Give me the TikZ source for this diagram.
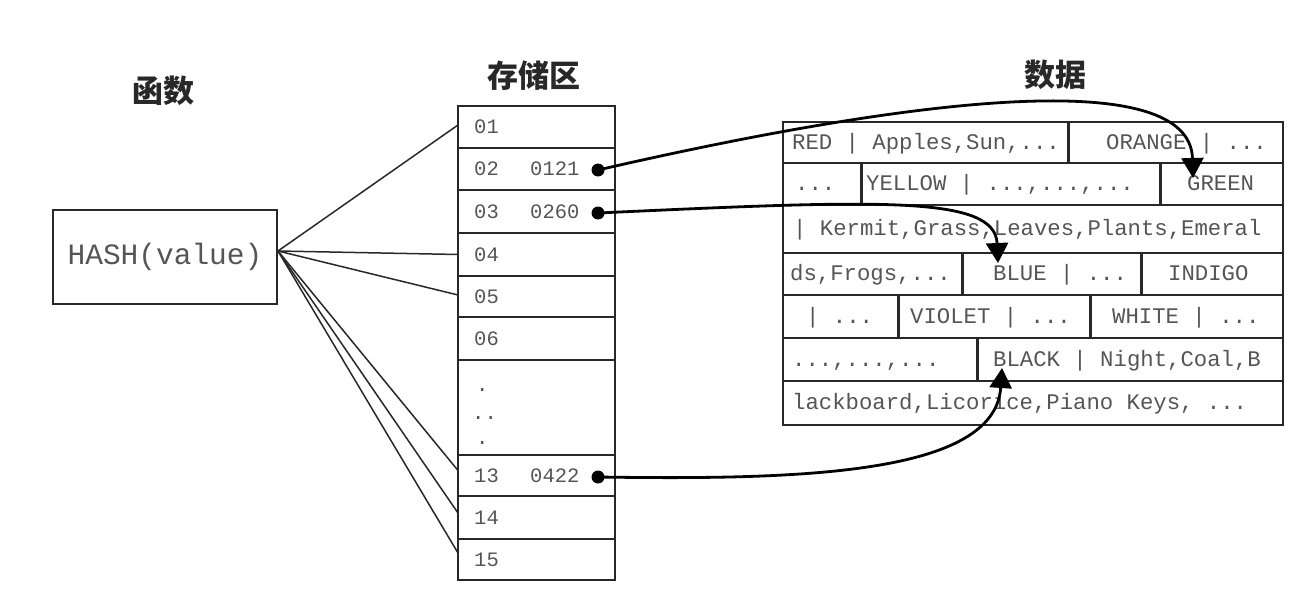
\documentclass[tikz,border=0pt]{standalone}
\usepackage{fontspec}
\setmonofont{Liberation Mono}
\newfontfamily\cjk{Noto Sans CJK SC}
\usetikzlibrary{arrows.meta}
\definecolor{linec}{RGB}{40,40,40}
\definecolor{txtc}{RGB}{85,85,85}
\definecolor{titlec}{RGB}{40,40,40}
\begin{document}
\begin{tikzpicture}[x=1pt,y=-1pt,
  cell/.style={draw=linec, line width=2pt, inner sep=0pt, outer sep=0pt, anchor=north west},
  divider/.style={draw=linec, line width=3pt},
  mono/.style={font=\fontsize{22.3}{24}\selectfont\ttfamily, text=txtc, inner sep=0pt, anchor=west, text height=13pt, text depth=0pt},
  smono/.style={font=\fontsize{20.5}{22}\selectfont\ttfamily, text=txtc, inner sep=0pt, anchor=west, text height=13pt, text depth=0pt},
  title/.style={font=\fontsize{31}{33}\selectfont\cjk\bfseries, text=titlec, inner sep=0pt},
  ptr/.style={draw=black, line width=2.8pt, -{Triangle[length=20pt,width=22pt]}},
  dot/.style={circle, fill=black, inner sep=0pt, minimum size=13pt},
  hashline/.style={draw=linec, line width=1.5pt}
]
\useasboundingbox (0,0) rectangle (1302,594);

% titles
\node[title] (t1) at (163,91) {函数};
\node[title] (t2) at (534,76) {存储区};
\node[title] (t3) at (1055,75) {数据};

% hash box
\node[draw=linec, line width=2pt, minimum width=224, minimum height=94, inner sep=0pt,
      font=\fontsize{29.5}{31}\selectfont\ttfamily, text=txtc] (hash) at (165,257) {HASH(value)};

% storage column
\node[cell, minimum width=157, minimum height=42] (s01) at (458,106) {};
\node[cell, minimum width=157, minimum height=42] (s02) at (458,148) {};
\node[cell, minimum width=157, minimum height=43] (s03) at (458,190) {};
\node[cell, minimum width=157, minimum height=43] (s04) at (458,233) {};
\node[cell, minimum width=157, minimum height=41] (s05) at (458,276) {};
\node[cell, minimum width=157, minimum height=43] (s06) at (458,317) {};
\node[cell, minimum width=157, minimum height=95] (sdots) at (458,360) {};
\node[cell, minimum width=157, minimum height=41] (s13) at (458,455) {};
\node[cell, minimum width=157, minimum height=43] (s14) at (458,496) {};
\node[cell, minimum width=157, minimum height=41] (s15) at (458,539) {};

\node[smono] (l01) at (474,127) {01};
\node[smono] (l02) at (474,169) {02};
\node[smono] (v02) at (530,169) {0121};
\node[smono] (l03) at (474,211.5) {03};
\node[smono] (v03) at (530,211.5) {0260};
\node[smono] (l04) at (474,254.5) {04};
\node[smono] (l05) at (474,296.5) {05};
\node[smono] (l06) at (474,338.5) {06};
\node[smono, anchor=base west] (e1) at (476,391) {.};
\node[smono, anchor=base west] (e2) at (472,419) {..};
\node[smono, anchor=base west] (e3) at (476,444) {.};
\node[smono] (l13) at (474,475.5) {13};
\node[smono] (v13) at (530,475.5) {0422};
\node[smono] (l14) at (474,517.5) {14};
\node[smono] (l15) at (474,559.5) {15};

\node[dot] (d02) at (598,170) {};
\node[dot] (d03) at (598,213) {};
\node[dot] (d13) at (598,477) {};

% data grid
\node[cell, minimum width=285, minimum height=41] (r1a) at (783,122) {};
\node[cell, minimum width=215, minimum height=41] (r1b) at (1068,122) {};
\node[cell, minimum width=78,  minimum height=42] (r2a) at (783,163) {};
\node[cell, minimum width=299, minimum height=42] (r2b) at (861,163) {};
\node[cell, minimum width=123, minimum height=42] (r2c) at (1160,163) {};
\node[cell, minimum width=500, minimum height=48] (r3)  at (783,205) {};
\node[cell, minimum width=179, minimum height=42] (r4a) at (783,253) {};
\node[cell, minimum width=179, minimum height=42] (r4b) at (962,253) {};
\node[cell, minimum width=142, minimum height=42] (r4c) at (1141,253) {};
\node[cell, minimum width=115, minimum height=43] (r5a) at (783,295) {};
\node[cell, minimum width=192, minimum height=43] (r5b) at (898,295) {};
\node[cell, minimum width=193, minimum height=43] (r5c) at (1090,295) {};
\node[cell, minimum width=194, minimum height=43] (r6a) at (783,338) {};
\node[cell, minimum width=306, minimum height=43] (r6b) at (977,338) {};
\node[cell, minimum width=500, minimum height=44] (r7)  at (783,381) {};

\draw[divider] (r1a.north east) -- (r1a.south east);
\draw[divider] (r2a.north east) -- (r2a.south east);
\draw[divider] (r2b.north east) -- (r2b.south east);
\draw[divider] (r4a.north east) -- (r4a.south east);
\draw[divider] (r4b.north east) -- (r4b.south east);
\draw[divider] (r5a.north east) -- (r5a.south east);
\draw[divider] (r5b.north east) -- (r5b.south east);
\draw[divider] (r6a.north east) -- (r6a.south east);

\node[mono] (x1a) at (792,142.5) {RED | Apples,Sun,...};
\node[mono] (x1b) at (1106,142.5) {ORANGE | ...};
\node[mono] (x2a) at (795,184) {...};
\node[mono] (x2b) at (866,184) {YELLOW | ...,...,...};
\node[mono] (x2c) at (1187,184) {GREEN};
\node[mono] (x3)  at (793,229) {| Kermit,Grass,Leaves,Plants,Emeral};
\node[mono] (x4a) at (790,274) {ds,Frogs,...};
\node[mono] (x4b) at (993,274) {BLUE | ...};
\node[mono] (x4c) at (1168,274) {INDIGO};
\node[mono] (x5a) at (806,316.5) {| ...};
\node[mono] (x5b) at (910,316.5) {VIOLET | ...};
\node[mono] (x5c) at (1112,316.5) {WHITE | ...};
\node[mono] (x6a) at (792,359.5) {...,...,...};
\node[mono] (x6b) at (993,359.5) {BLACK | Night,Coal,B};
\node[mono] (x7)  at (792,403) {lackboard,Licorice,Piano Keys, ...};

% hash lines
\draw[hashline] ([yshift=6pt]hash.east) -- ([yshift=2pt]s01.west);
\draw[hashline] ([yshift=6pt]hash.east) -- (s04.west);
\draw[hashline] ([yshift=6pt]hash.east) -- ([yshift=1.5pt]s05.west);
\draw[hashline] ([yshift=6pt]hash.east) -- ([yshift=5pt]s13.west);
\draw[hashline] ([yshift=6pt]hash.east) -- ([yshift=4.5pt]s14.west);
\draw[hashline] ([yshift=6pt]hash.east) -- ([yshift=6.5pt]s15.west);

% pointers
\coordinate (tipG) at (1193,178);
\coordinate (tipB) at (998,263);
\coordinate (tipK) at (1002,368);
\draw[ptr] (d02.center) .. controls (920,96) and (1190,66) .. (tipG);
\draw[ptr] (d03.center) .. controls (880,200) and (995,195) .. (tipB);
\draw[ptr] (d13.center) .. controls (800,480) and (995,475) .. (tipK);
\end{tikzpicture}
\end{document}
